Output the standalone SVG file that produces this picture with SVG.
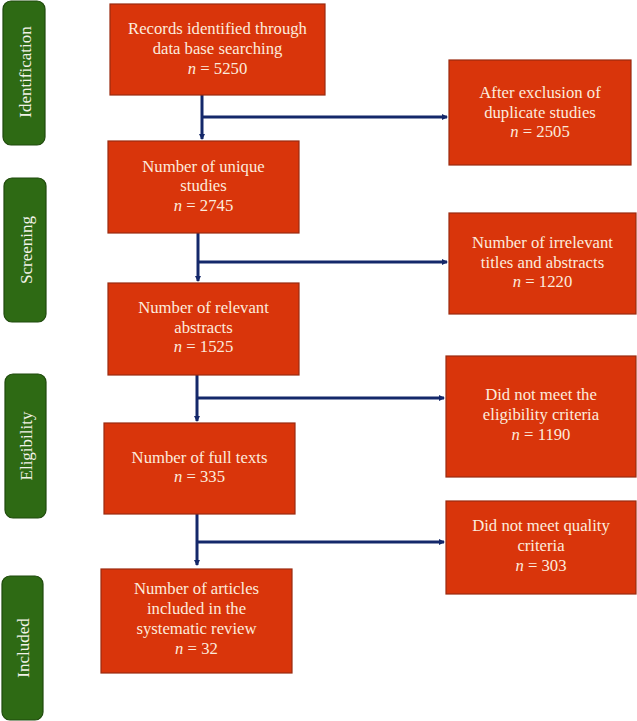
<svg xmlns="http://www.w3.org/2000/svg" width="637" height="721" viewBox="0 0 637 721">
<defs>
<style>
.box{fill:#D9350B;stroke:#9A2A10;stroke-width:1.2}
.stage{fill:#2E6A14;stroke:#1F4A0C;stroke-width:1.2}
.t{font-family:"Liberation Serif","Times New Roman",serif;font-size:16.7px;fill:#FCEBDD;text-anchor:middle}
.st{font-family:"Liberation Serif","Times New Roman",serif;font-size:17px;fill:#F2F2E8;text-anchor:middle;dominant-baseline:central}
.c{fill:none;stroke:#14286A;stroke-width:3}
.n{font-style:italic}
</style>
<marker id="ah" markerWidth="6" markerHeight="6" refX="5" refY="3" orient="auto" markerUnits="userSpaceOnUse">
<path d="M0,0 L6,3 L0,6 Z" fill="#14286A"/>
</marker>
</defs>
<rect width="637" height="721" fill="#FFFFFF"/>

<g id="stage-identification">
<rect class="stage" x="3" y="1" width="42" height="144" rx="8"/>
<text class="st" transform="translate(25,72) rotate(-90)">Identification</text>
</g>
<g id="stage-screening">
<rect class="stage" x="4" y="178" width="42" height="144" rx="8"/>
<text class="st" transform="translate(26,250) rotate(-90)">Screening</text>
</g>
<g id="stage-eligibility">
<rect class="stage" x="5" y="374" width="41" height="144" rx="8"/>
<text class="st" transform="translate(26,446) rotate(-90)">Eligibility</text>
</g>
<g id="stage-included">
<rect class="stage" x="2" y="576" width="41" height="144" rx="8"/>
<text class="st" transform="translate(23,648) rotate(-90)">Included</text>
</g>

<g id="connectors">
<path class="c" d="M202,95 V139" marker-end="url(#ah)"/>
<path class="c" d="M202,117 H447" marker-end="url(#ah)"/>
<path class="c" d="M198,233 V281" marker-end="url(#ah)"/>
<path class="c" d="M198,262 H447" marker-end="url(#ah)"/>
<path class="c" d="M197,375 V421" marker-end="url(#ah)"/>
<path class="c" d="M197,398 H444" marker-end="url(#ah)"/>
<path class="c" d="M197,514 V565" marker-end="url(#ah)"/>
<path class="c" d="M197,542 H444" marker-end="url(#ah)"/>
</g>

<g id="records">
<rect class="box" x="110" y="4" width="215" height="91"/>
<text class="t" x="217.5" y="34">Records identified through</text>
<text class="t" x="217.5" y="54">data base searching</text>
<text class="t" x="217.5" y="74"><tspan class="n">n</tspan> = 5250</text>
</g>
<g id="duplicates">
<rect class="box" x="449" y="60" width="182" height="105"/>
<text class="t" x="540" y="98">After exclusion of</text>
<text class="t" x="540" y="118">duplicate studies</text>
<text class="t" x="540" y="137"><tspan class="n">n</tspan> = 2505</text>
</g>
<g id="unique">
<rect class="box" x="108" y="141" width="191" height="92"/>
<text class="t" x="203.5" y="172">Number of unique</text>
<text class="t" x="203.5" y="191">studies</text>
<text class="t" x="203.5" y="211"><tspan class="n">n</tspan> = 2745</text>
</g>
<g id="irrelevant">
<rect class="box" x="449" y="213" width="187" height="101"/>
<text class="t" x="542.5" y="248">Number of irrelevant</text>
<text class="t" x="542.5" y="268">titles and abstracts</text>
<text class="t" x="542.5" y="287"><tspan class="n">n</tspan> = 1220</text>
</g>
<g id="relevant">
<rect class="box" x="108" y="283" width="191" height="92"/>
<text class="t" x="203.5" y="313">Number of relevant</text>
<text class="t" x="203.5" y="333">abstracts</text>
<text class="t" x="203.5" y="352"><tspan class="n">n</tspan> = 1525</text>
</g>
<g id="not-eligible">
<rect class="box" x="446" y="356" width="190" height="121"/>
<text class="t" x="541" y="400">Did not meet the</text>
<text class="t" x="541" y="420">eligibility criteria</text>
<text class="t" x="541" y="440"><tspan class="n">n</tspan> = 1190</text>
</g>
<g id="fulltexts">
<rect class="box" x="104" y="423" width="191" height="91"/>
<text class="t" x="199.5" y="463">Number of full texts</text>
<text class="t" x="199.5" y="482"><tspan class="n">n</tspan> = 335</text>
</g>
<g id="quality">
<rect class="box" x="446" y="501" width="190" height="93"/>
<text class="t" x="541" y="531">Did not meet quality</text>
<text class="t" x="541" y="551">criteria</text>
<text class="t" x="541" y="571"><tspan class="n">n</tspan> = 303</text>
</g>
<g id="included">
<rect class="box" x="101" y="569" width="191" height="104"/>
<text class="t" x="196.5" y="594">Number of articles</text>
<text class="t" x="196.5" y="614">included in the</text>
<text class="t" x="196.5" y="634">systematic review</text>
<text class="t" x="196.5" y="654"><tspan class="n">n</tspan> = 32</text>
</g>
</svg>
